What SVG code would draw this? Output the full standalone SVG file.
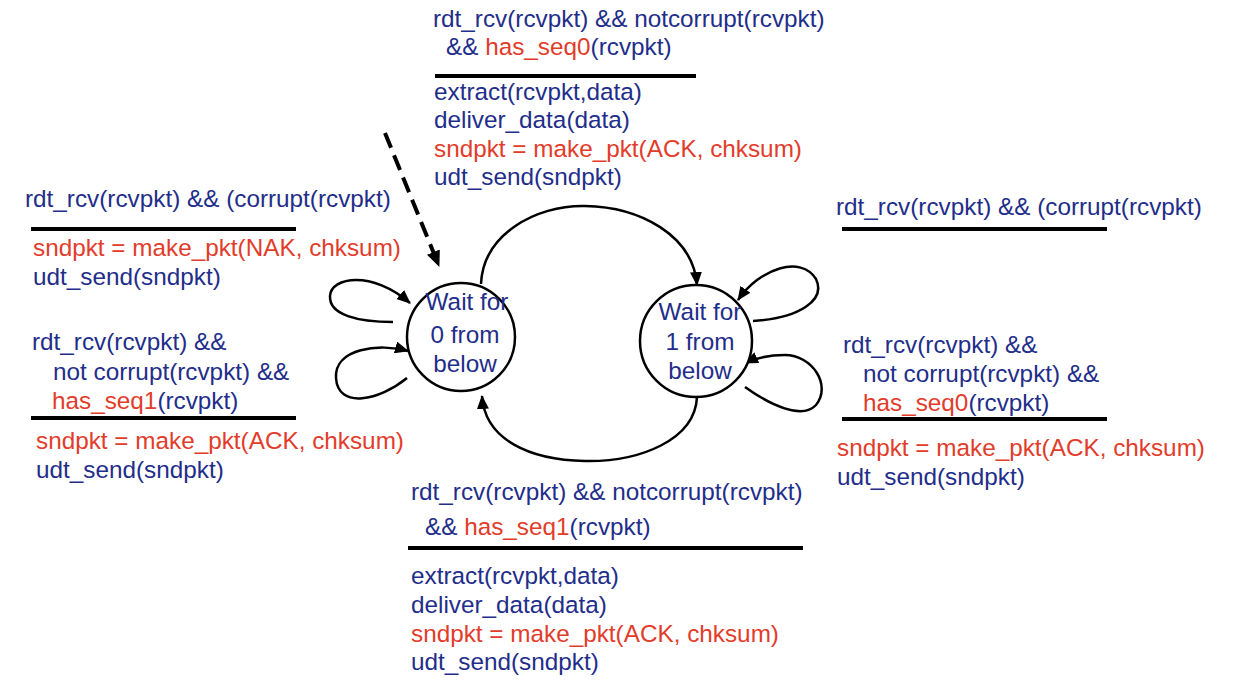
<svg xmlns="http://www.w3.org/2000/svg" width="1244" height="688" viewBox="0 0 1244 688">
<style>
text{font-family:"Liberation Sans",Arial,sans-serif;font-size:24.3px;fill:#1f2e8a}
.r{fill:#e23c2b}
.rule{stroke:#000;stroke-width:4}
.state{fill:#fff;stroke:#000;stroke-width:2.5}
.st{text-anchor:middle}
.edge{fill:none;stroke:#000;stroke-width:2.5}
.dash{fill:none;stroke:#000;stroke-width:4;stroke-dasharray:16 8}
</style>
<defs>
<marker id="ah" markerUnits="userSpaceOnUse" markerWidth="14" markerHeight="12" refX="13" refY="6" orient="auto">
<path d="M0,0 L14,6 L0,12 Z" fill="#000"/>
</marker>
<marker id="ahd" markerUnits="userSpaceOnUse" markerWidth="16" markerHeight="14" refX="15" refY="7" orient="auto">
<path d="M0,0 L16,7 L0,14 Z" fill="#000"/>
</marker>
</defs>
<rect width="1244" height="688" fill="#fff"/>

<g id="connectors">
<path class="dash" d="M385,133 L439,266" marker-end="url(#ahd)"/>
<path class="edge" d="M481,284 C483,235 535,205 585,206 C640,207 693,235 697,285" marker-end="url(#ah)"/>
<path class="edge" d="M697,397 C695,440 640,462 585,461 C530,460 485,440 482,396" marker-end="url(#ah)"/>
<path class="edge" d="M393,322 C358,322 329,315 330,296 C331,277 372,270 410,303" marker-end="url(#ah)"/>
<path class="edge" d="M407,378 C380,400 338,410 336,378 C334,348 380,343 408,351" marker-end="url(#ah)"/>
<path class="edge" d="M753,321 C800,318 826,300 816,279 C801,255 760,268 738,300" marker-end="url(#ah)"/>
<path class="edge" d="M745,387 C770,405 802,420 816,405 C832,385 812,355 785,355 C770,355 756,358 745,363" marker-end="url(#ah)"/>
</g>

<g id="state0">
<circle class="state" cx="461" cy="337" r="54"/>
<text class="st" x="467" y="310">Wait for</text>
<text class="st" x="465" y="343">0 from</text>
<text class="st" x="465" y="372">below</text>
</g>

<g id="state1">
<circle class="state" cx="696" cy="341" r="56"/>
<text class="st" x="700" y="320">Wait for</text>
<text class="st" x="700" y="350">1 from</text>
<text class="st" x="700" y="379">below</text>
</g>

<g id="label-top">
<text x="433" y="27">rdt_rcv(rcvpkt) &amp;&amp; notcorrupt(rcvpkt)</text>
<text x="446" y="55">&amp;&amp; <tspan class="r">has_seq0</tspan>(rcvpkt)</text>
<line class="rule" x1="435" y1="76" x2="696" y2="76"/>
<text x="434" y="100">extract(rcvpkt,data)</text>
<text x="434" y="128">deliver_data(data)</text>
<text class="r" x="434" y="157">sndpkt = make_pkt(ACK, chksum)</text>
<text x="434" y="185">udt_send(sndpkt)</text>
</g>

<g id="label-left-top">
<text x="25" y="207">rdt_rcv(rcvpkt) &amp;&amp; (corrupt(rcvpkt)</text>
<line class="rule" x1="31" y1="229" x2="296" y2="229"/>
<text class="r" x="33" y="256">sndpkt = make_pkt(NAK, chksum)</text>
<text x="33" y="285">udt_send(sndpkt)</text>
</g>

<g id="label-left-bottom">
<text x="32" y="350">rdt_rcv(rcvpkt) &amp;&amp;</text>
<text x="53" y="380">not corrupt(rcvpkt) &amp;&amp;</text>
<text x="52" y="409"><tspan class="r">has_seq1</tspan>(rcvpkt)</text>
<line class="rule" x1="31" y1="418" x2="296" y2="418"/>
<text class="r" x="36" y="449">sndpkt = make_pkt(ACK, chksum)</text>
<text x="36" y="478">udt_send(sndpkt)</text>
</g>

<g id="label-right-top">
<text x="836" y="215">rdt_rcv(rcvpkt) &amp;&amp; (corrupt(rcvpkt)</text>
<line class="rule" x1="842" y1="229" x2="1107" y2="229"/>
</g>

<g id="label-right-bottom">
<text x="843" y="353">rdt_rcv(rcvpkt) &amp;&amp;</text>
<text x="863" y="382">not corrupt(rcvpkt) &amp;&amp;</text>
<text x="863" y="411"><tspan class="r">has_seq0</tspan>(rcvpkt)</text>
<line class="rule" x1="842" y1="419" x2="1107" y2="419"/>
<text class="r" x="837" y="456">sndpkt = make_pkt(ACK, chksum)</text>
<text x="837" y="485">udt_send(sndpkt)</text>
</g>

<g id="label-bottom">
<text x="411" y="500">rdt_rcv(rcvpkt) &amp;&amp; notcorrupt(rcvpkt)</text>
<text x="425" y="535">&amp;&amp; <tspan class="r">has_seq1</tspan>(rcvpkt)</text>
<line class="rule" x1="408" y1="548" x2="803" y2="548"/>
<text x="411" y="584">extract(rcvpkt,data)</text>
<text x="411" y="613">deliver_data(data)</text>
<text class="r" x="411" y="642">sndpkt = make_pkt(ACK, chksum)</text>
<text x="411" y="670">udt_send(sndpkt)</text>
</g>
</svg>
